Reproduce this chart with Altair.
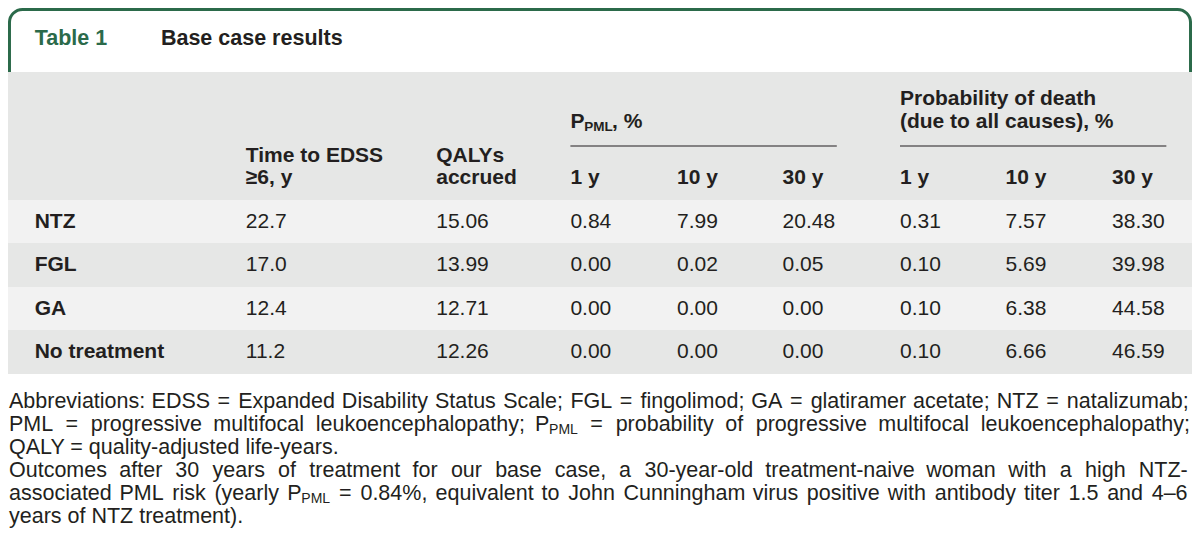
import re
import altair as alt
import pandas as pd

# ---------------- data ----------------
treatments = ["NTZ", "FGL", "GA", "No treatment"]
time_to_edss = [22.7, 17.0, 12.4, 11.2]
qalys = [15.06, 13.99, 12.71, 12.26]
ppml_1y = [0.84, 0.00, 0.00, 0.00]
ppml_10y = [7.99, 0.02, 0.00, 0.00]
ppml_30y = [20.48, 0.05, 0.00, 0.00]
death_1y = [0.31, 0.10, 0.10, 0.10]
death_10y = [7.57, 5.69, 6.38, 6.66]
death_30y = [38.30, 39.98, 44.58, 46.59]

table_label = "Table 1"
table_title = "Base case results"
year_labels = ["1 y", "10 y", "30 y"]
header_time = ["Time to EDSS", "\u22656, y"]
header_qaly = ["QALYs", "accrued"]
header_death = ["Probability of death", "(due to all causes), %"]

footnotes = [
    "Abbreviations: EDSS = Expanded Disability Status Scale; FGL = fingolimod; GA = glatiramer acetate; NTZ = natalizumab;",
    "PML = progressive multifocal leukoencephalopathy; P{PML} = probability of progressive multifocal leukoencephalopathy;",
    "QALY = quality-adjusted life-years.",
    "Outcomes after 30 years of treatment for our base case, a 30-year-old treatment-naive woman with a high NTZ-",
    "associated PML risk (yearly P{PML} = 0.84%, equivalent to John Cunningham virus positive with antibody titer 1.5 and 4\u20136",
    "years of NTZ treatment).",
]
justified = [True, True, False, True, True, False]

# ---------------- layout / style ----------------
REF_W = 1200
W, H = 1184, 540
FONT = "Liberation Sans"
GREEN = "#2b6a4a"
INK = "#231f20"
GREY = "#e6e7e6"
LIGHT = "#f2f2f2"
FS = 21          # table font size
FS_SUB = 13.5
FN = 21.5        # footnote font size
FN_SUB = 14

col_x = {"label": 27, "time": 241, "qaly": 434, "p1": 570, "p10": 678,
         "p30": 785, "d1": 904, "d10": 1011, "d30": 1119}
row_y = [213.5, 257, 300.5, 344]
row_band = [(192, 235), (235, 279), (279, 322), (322, 366)]

xs = alt.Scale(domain=[0, REF_W], nice=False, zero=False)
ys = alt.Scale(domain=[0, H], nice=False, zero=False, reverse=True)

AW = {' ': 278, '!': 278, '"': 355, '#': 556, '$': 556, '%': 889, '&': 667, "'": 191,
      '(': 333, ')': 333, '*': 389, '+': 584, ',': 278, '-': 333, '.': 278, '/': 278,
      ':': 278, ';': 278, '<': 584, '=': 584, '>': 584, '?': 556, '\u2013': 556, '\u2265': 549}
for ch in "0123456789":
    AW[ch] = 556
AW.update(dict(zip("ABCDEFGHIJKLMNOPQRSTUVWXYZ",
                   [667, 667, 722, 722, 667, 611, 778, 722, 278, 500, 667, 556, 833,
                    722, 778, 667, 778, 722, 667, 611, 722, 667, 944, 667, 667, 611])))
AW.update(dict(zip("abcdefghijklmnopqrstuvwxyz",
                   [556, 556, 500, 556, 556, 278, 556, 556, 222, 222, 500, 222, 833,
                    556, 556, 556, 556, 333, 500, 278, 556, 500, 722, 500, 500, 500])))


def tw(s, size):
    return sum(AW.get(c, 556) for c in s) * size / 1000.0


def segments(word):
    out = []
    for i, part in enumerate(re.split(r"\{([^}]*)\}", word)):
        if part:
            out.append((part, i % 2 == 1))
    return out


def enc():
    return dict(x=alt.X("x:Q", scale=xs, axis=None),
                y=alt.Y("y:Q", scale=ys, axis=None),
                text=alt.Text("text:N"))


def text_layer(records, **kw):
    df = pd.DataFrame(records, columns=["x", "y", "text"])
    return alt.Chart(df).mark_text(align="left", baseline="middle", font=FONT, **kw).encode(**enc())


# ---------------- backgrounds ----------------
border = alt.Chart(pd.DataFrame([{"x": 1.5, "x2": 1198.5, "y": 1.5, "y2": 110}])).mark_rect(
    fill="white", stroke=GREEN, strokeWidth=3, cornerRadius=13
).encode(x=alt.X("x:Q", scale=xs, axis=None), x2="x2:Q",
         y=alt.Y("y:Q", scale=ys, axis=None), y2="y2:Q")

bands = [{"x": 0, "x2": REF_W, "y": 64, "y2": 192, "fill": GREY}]
for i, (a, b) in enumerate(row_band):
    bands.append({"x": 0, "x2": REF_W, "y": a, "y2": b, "fill": LIGHT if i % 2 == 0 else GREY})
band_layer = alt.Chart(pd.DataFrame(bands)).mark_rect().encode(
    x=alt.X("x:Q", scale=xs, axis=None), x2="x2:Q",
    y=alt.Y("y:Q", scale=ys, axis=None), y2="y2:Q",
    color=alt.Color("fill:N", scale=None))

rules = pd.DataFrame([{"x": col_x["p1"], "x2": 840, "y": 138},
                      {"x": col_x["d1"], "x2": 1174, "y": 138}])
rule_layer = alt.Chart(rules).mark_rule(color=INK, strokeWidth=1.2).encode(
    x=alt.X("x:Q", scale=xs, axis=None), x2="x2:Q", y=alt.Y("y:Q", scale=ys, axis=None))

# ---------------- title ----------------
title_green = text_layer([(27, 31, table_label)], fontSize=21.5, fontWeight="bold", color=GREEN)
title_dark = text_layer([(155, 31, table_title)], fontSize=21.5, fontWeight="bold", color=INK)

# ---------------- header ----------------
hdr = [
    (col_x["time"], 148, header_time[0]), (col_x["time"], 170, header_time[1]),
    (col_x["qaly"], 148, header_qaly[0]), (col_x["qaly"], 170, header_qaly[1]),
    (col_x["d1"], 91, header_death[0]), (col_x["d1"], 114, header_death[1]),
]
for key, lab in zip(["p1", "p10", "p30"], year_labels):
    hdr.append((col_x[key], 170, lab))
for key, lab in zip(["d1", "d10", "d30"], year_labels):
    hdr.append((col_x[key], 170, lab))
p_w = tw("P", FS)
sub_w = tw("PML", FS_SUB)
hdr.append((col_x["p1"], 114, "P"))
hdr.append((col_x["p1"] + p_w + sub_w + 0.5, 114, ", %"))
hdr_layer = text_layer(hdr, fontSize=FS, fontWeight="bold", color=INK)
hdr_sub = text_layer([(col_x["p1"] + p_w, 119, "PML")], fontSize=FS_SUB, fontWeight="bold", color=INK)

# ---------------- body ----------------
labels = [(col_x["label"], row_y[i], t) for i, t in enumerate(treatments)]
label_layer = text_layer(labels, fontSize=FS, fontWeight="bold", color=INK)

cols = [("time", time_to_edss, "{:.1f}"), ("qaly", qalys, "{:.2f}"),
        ("p1", ppml_1y, "{:.2f}"), ("p10", ppml_10y, "{:.2f}"), ("p30", ppml_30y, "{:.2f}"),
        ("d1", death_1y, "{:.2f}"), ("d10", death_10y, "{:.2f}"), ("d30", death_30y, "{:.2f}")]
cells = []
for key, vals, fmt in cols:
    for i, v in enumerate(vals):
        cells.append((col_x[key], row_y[i], fmt.format(v)))
cell_layer = text_layer(cells, fontSize=FS, color=INK)

# ---------------- footnotes (justified) ----------------
fn_x0, fn_x1 = 1, 1195
fn_y = [394, 417, 440, 463, 486, 509]
fn_main, fn_sub = [], []
for line, y, just in zip(footnotes, fn_y, justified):
    if not just and "{" not in line:
        fn_main.append((fn_x0, y, line))
        continue
    words = line.split(" ")
    segs = [segments(w) for w in words]
    widths = [sum(tw(t, FN_SUB if s else FN) for t, s in sg) for sg in segs]
    if just and len(words) > 1:
        gap = (fn_x1 - fn_x0 - sum(widths)) / (len(words) - 1)
    else:
        gap = tw(" ", FN)
    x = fn_x0
    for sg, wdt in zip(segs, widths):
        xx = x
        for t, s in sg:
            if s:
                fn_sub.append((xx, y + 5, t))
                xx += tw(t, FN_SUB)
            else:
                fn_main.append((xx, y, t))
                xx += tw(t, FN)
        x += wdt + gap
fn_layer = text_layer(fn_main, fontSize=FN, color=INK)
fn_sub_layer = text_layer(fn_sub, fontSize=FN_SUB, color=INK)

chart = alt.layer(
    border, band_layer, rule_layer, title_green, title_dark, hdr_layer, hdr_sub,
    label_layer, cell_layer, fn_layer, fn_sub_layer
).properties(
    width=W, height=H, padding=0, autosize="none", background="white"
).configure_view(strokeWidth=0)

chart.save("out.html", embed_options={"renderer": "svg", "actions": False})
